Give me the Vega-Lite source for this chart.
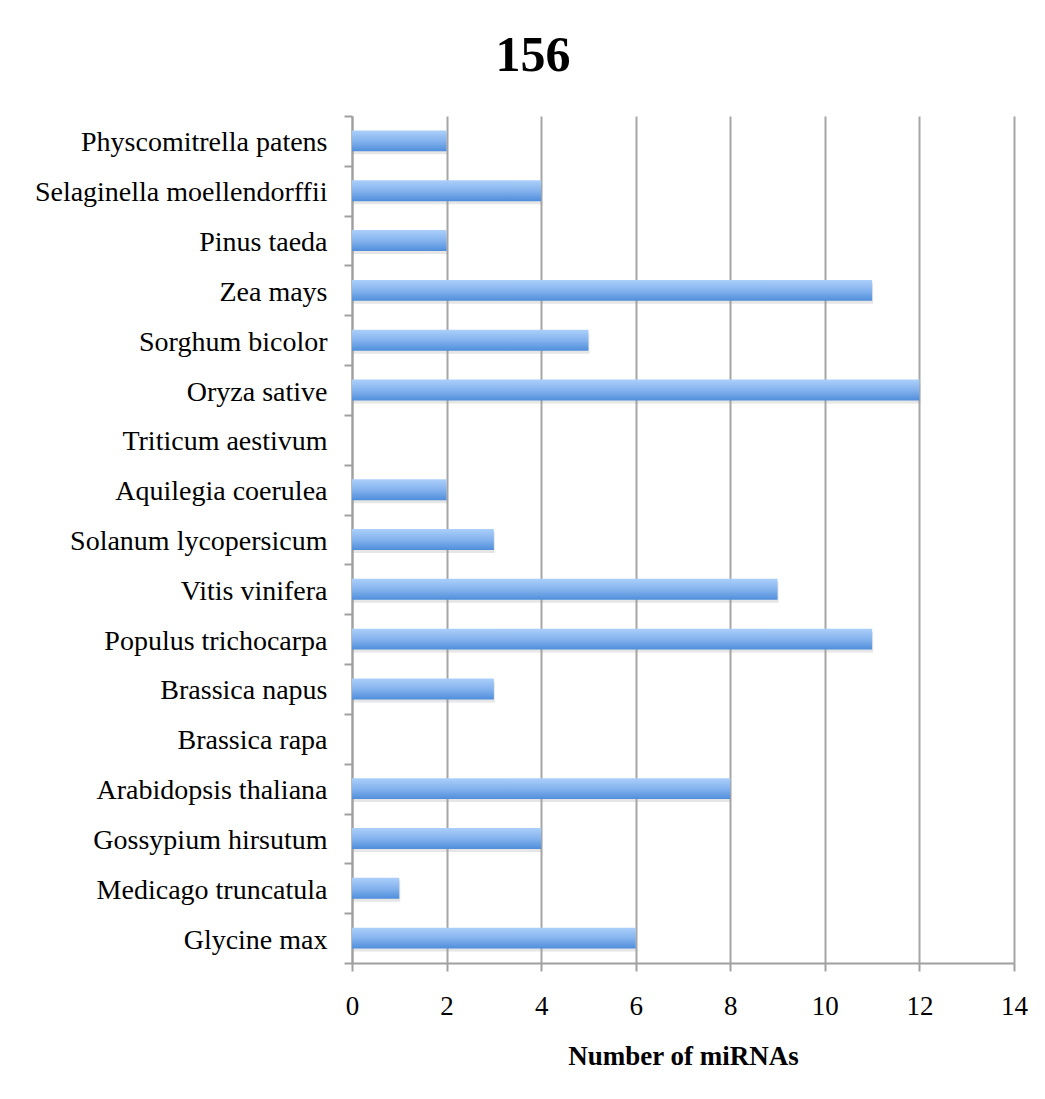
{
  "$schema": "https://vega.github.io/schema/vega-lite/v6.json",
  "autosize": {"type": "none"},
  "padding": {"left": 352, "top": 116, "right": 31, "bottom": 136},
  "width": 662,
  "height": 847,
  "background": "white",
  "title": {
    "text": "156",
    "font": "Liberation Serif",
    "fontSize": 50,
    "fontWeight": "bold",
    "color": "#000000",
    "anchor": "middle",
    "dx": -150,
    "offset": 21
  },
  "data": {
    "values": [
      {"species": "Physcomitrella patens", "count": 2},
      {"species": "Selaginella moellendorffii", "count": 4},
      {"species": "Pinus taeda", "count": 2},
      {"species": "Zea mays", "count": 11},
      {"species": "Sorghum bicolor", "count": 5},
      {"species": "Oryza sative", "count": 12},
      {"species": "Triticum aestivum", "count": 0},
      {"species": "Aquilegia coerulea", "count": 2},
      {"species": "Solanum lycopersicum", "count": 3},
      {"species": "Vitis vinifera", "count": 9},
      {"species": "Populus trichocarpa", "count": 11},
      {"species": "Brassica napus", "count": 3},
      {"species": "Brassica rapa", "count": 0},
      {"species": "Arabidopsis thaliana", "count": 8},
      {"species": "Gossypium hirsutum", "count": 4},
      {"species": "Medicago truncatula", "count": 1},
      {"species": "Glycine max", "count": 6}
    ]
  },
  "layer": [
    {
      "mark": {"type": "bar", "height": {"band": 0.42}, "yOffset": 3, "xOffset": 1, "color": "#9a9a9a", "opacity": 0.25},
      "encoding": {
        "y": {"field": "species", "type": "nominal", "sort": null, "scale": {"paddingInner": 0, "paddingOuter": 0}},
        "x": {"field": "count", "type": "quantitative"}
      }
    },
    {
      "mark": {
        "type": "bar",
        "height": {"band": 0.42},
        "color": {
          "gradient": "linear",
          "x1": 0, "y1": 0, "x2": 0, "y2": 1,
          "stops": [
            {"offset": 0, "color": "#abcffa"},
            {"offset": 0.5, "color": "#85b3ee"},
            {"offset": 1, "color": "#4f8edb"}
          ]
        }
      },
      "encoding": {
        "y": {
          "field": "species",
          "type": "nominal",
          "sort": null,
          "scale": {"paddingInner": 0, "paddingOuter": 0},
          "axis": {
            "title": null,
            "tickBand": "extent",
            "domainColor": "#a0a0a0",
            "domainWidth": 2,
            "tickColor": "#a0a0a0",
            "tickWidth": 2,
            "tickSize": 8,
            "labelPadding": 17,
            "labelOffset": 2,
            "labelFont": "Liberation Serif",
            "labelFontSize": 28,
            "labelColor": "#000000",
            "labelLimit": 400,
            "grid": false
          }
        },
        "x": {
          "field": "count",
          "type": "quantitative",
          "scale": {"domain": [0, 14], "nice": false},
          "axis": {
            "title": "Number of miRNAs",
            "values": [0, 2, 4, 6, 8, 10, 12, 14],
            "grid": true,
            "gridColor": "#a6a6a6",
            "gridWidth": 2,
            "domainColor": "#a0a0a0",
            "domainWidth": 2,
            "tickColor": "#a0a0a0",
            "tickWidth": 2,
            "tickSize": 8,
            "labelPadding": 22,
            "labelFont": "Liberation Serif",
            "labelFontSize": 27,
            "labelColor": "#000000",
            "labelFlush": false,
            "titleFont": "Liberation Serif",
            "titleFontSize": 27,
            "titleFontWeight": "bold",
            "titleColor": "#000000",
            "titlePadding": 24
          }
        }
      }
    }
  ],
  "config": {
    "view": {"stroke": null}
  }
}
